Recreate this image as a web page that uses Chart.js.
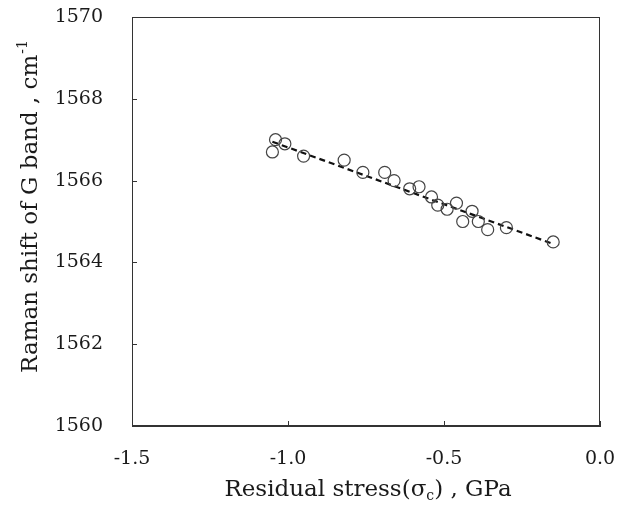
<!DOCTYPE html>
<html>
<head>
<meta charset="utf-8">
<script src="https://cdn.jsdelivr.net/npm/chart.js@4.4.1/dist/chart.umd.min.js"></script>
<style>
  html, body { margin: 0; padding: 0; background: #fff; }
  #wrap { width: 624px; height: 505px; }
</style>
</head>
<body>
<div id="wrap"><canvas id="c" width="624" height="505"></canvas></div>
<script>
  // valeurs
  const stressX = [-1.05, -1.04, -1.01, -0.95, -0.82, -0.76, -0.69, -0.66, -0.61, -0.58,
                   -0.54, -0.52, -0.49, -0.46, -0.44, -0.41, -0.39, -0.36, -0.30, -0.15];
  const ramanY  = [1566.7, 1567.0, 1566.9, 1566.6, 1566.5, 1566.2, 1566.2, 1566.0, 1565.8, 1565.85,
                   1565.6, 1565.4, 1565.3, 1565.45, 1565.0, 1565.25, 1565.0, 1564.8, 1564.85, 1564.5];
  // droite de régression (extrémités lues)
  const fitX = [-1.05, -0.15];
  const fitY = [1566.95, 1564.45];

  const xTicks = [-1.5, -1.0, -0.5, 0.0];
  const yTicks = [1560, 1562, 1564, 1566, 1568, 1570];

  const FONT = "'DejaVu Serif', 'Liberation Serif', serif";
  const INK = "#1a1a1a";

  // titres d'axes avec exposant / indice + graduations vers l'intérieur
  const decor = {
    id: "decor",
    afterDraw(chart) {
      const { ctx, chartArea: a, scales } = chart;
      ctx.save();
      ctx.strokeStyle = "#333";
      ctx.lineWidth = 1;
      xTicks.forEach((v) => {
        const px = Math.round(scales.x.getPixelForValue(v)) + 0.5;
        ctx.beginPath(); ctx.moveTo(px, a.bottom); ctx.lineTo(px, a.bottom - 5); ctx.stroke();
      });
      yTicks.forEach((v) => {
        const py = Math.round(scales.y.getPixelForValue(v)) + 0.5;
        ctx.beginPath(); ctx.moveTo(a.left, py); ctx.lineTo(a.left + 5, py); ctx.stroke();
      });

      ctx.fillStyle = INK;
      ctx.textBaseline = "alphabetic";

      // titre X : Residual stress(σc) , GPa
      const big = "23px " + FONT, small = "14px " + FONT;
      const p1 = "Residual stress(σ", p2 = "c", p3 = ") , GPa";
      ctx.font = big; const w1 = ctx.measureText(p1).width, w3 = ctx.measureText(p3).width;
      ctx.font = small; const w2 = ctx.measureText(p2).width;
      let x0 = 368 - (w1 + w2 + w3) / 2;
      const yb = 496;
      ctx.font = big; ctx.textAlign = "left"; ctx.fillText(p1, x0, yb);
      ctx.font = small; ctx.fillText(p2, x0 + w1, yb + 4);
      ctx.font = big; ctx.fillText(p3, x0 + w1 + w2, yb);

      // titre Y : Raman shift of G band , cm-1
      const q1 = "Raman shift of G band , cm", q2 = "-1";
      ctx.font = big; const v1 = ctx.measureText(q1).width;
      ctx.font = small; const v2 = ctx.measureText(q2).width;
      ctx.translate(37, 207);
      ctx.rotate(-Math.PI / 2);
      const s0 = -(v1 + v2) / 2;
      ctx.font = big; ctx.fillText(q1, s0, 0);
      ctx.font = small; ctx.fillText(q2, s0 + v1 + 1, -10);
      ctx.restore();
    }
  };

  new Chart(document.getElementById("c"), {
    type: "scatter",
    data: {
      datasets: [
        {
          label: "fit",
          type: "line",
          data: fitX.map((x, i) => ({ x, y: fitY[i] })),
          borderColor: "#111",
          borderWidth: 2.2,
          borderDash: [6, 4],
          pointRadius: 0,
          fill: false,
          order: 2
        },
        {
          label: "data",
          data: stressX.map((x, i) => ({ x, y: ramanY[i] })),
          pointStyle: "circle",
          pointRadius: 6,
          pointHoverRadius: 6,
          borderColor: "#444",
          borderWidth: 1.2,
          backgroundColor: "rgba(0,0,0,0)",
          order: 1
        }
      ]
    },
    options: {
      responsive: false,
      animation: false,
      events: [],
      layout: { padding: { left: 0, top: 17, right: 24, bottom: 0 } },
      plugins: { legend: { display: false }, tooltip: { enabled: false } },
      scales: {
        x: {
          type: "linear",
          min: -1.5, max: 0,
          afterBuildTicks: (s) => { s.ticks = xTicks.map((v) => ({ value: v })); },
          afterFit: (s) => { s.height = 79; s.paddingLeft = 0; s.paddingRight = 0; },
          grid: { display: false, drawTicks: false },
          border: { display: true, color: "#333", width: 1 },
          ticks: {
            color: INK, padding: 22,
            font: { family: FONT, size: 19 },
            callback: (v) => Number(v).toFixed(1)
          }
        },
        y: {
          type: "linear",
          min: 1560, max: 1570,
          afterBuildTicks: (s) => { s.ticks = yTicks.map((v) => ({ value: v })); },
          afterFit: (s) => { s.width = 132; s.paddingTop = 0; s.paddingBottom = 0; },
          grid: { display: false, drawTicks: false },
          border: { display: true, color: "#333", width: 1 },
          ticks: {
            color: INK, padding: 29,
            font: { family: FONT, size: 19 },
            callback: (v) => String(v)
          }
        }
      }
    },
    plugins: [decor, {
      id: "frame",
      afterDatasetsDraw(chart) {
        const { ctx, chartArea: a } = chart;
        ctx.save();
        ctx.strokeStyle = "#333"; ctx.lineWidth = 1;
        ctx.strokeRect(a.left + 0.5, a.top + 0.5, a.right - a.left - 1, a.bottom - a.top - 1);
        ctx.restore();
      }
    }]
  });
</script>
</body>
</html>
